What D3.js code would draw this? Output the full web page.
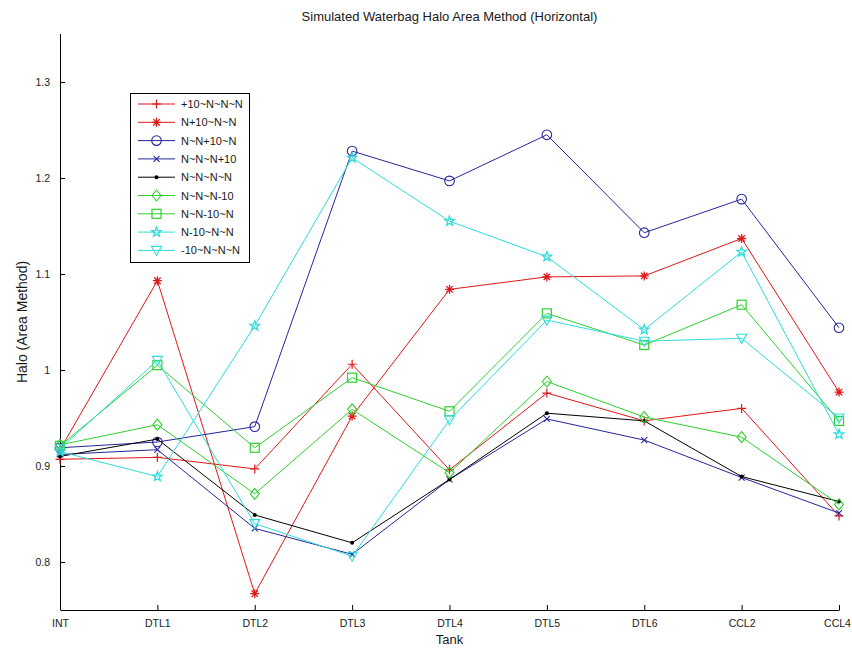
<!DOCTYPE html>
<html>
<head>
<meta charset="utf-8">
<script src="https://cdn.jsdelivr.net/npm/d3@7"></script>
<style>
  html, body { margin: 0; padding: 0; background: #ffffff; }
  svg text { font-family: "Liberation Sans", Arial, Helvetica, sans-serif; fill: #1a1a1a; }
</style>
</head>
<body>
<svg id="chart" width="852" height="648"></svg>
<script>
// Tank stations along the beamline
const tanks = ["INT", "DTL1", "DTL2", "DTL3", "DTL4", "DTL5", "DTL6", "CCL2", "CCL4"];

// Halo (area method) per waterbag error case
const plusTenNNN   = [0.907, 0.909, 0.897, 1.006, 0.896, 0.976, 0.947, 0.960, 0.848];
const nPlusTenNN   = [0.917, 1.093, 0.767, 0.952, 1.084, 1.097, 1.098, 1.137, 0.977];
const nnPlusTenN   = [0.919, 0.925, 0.941, 1.228, 1.197, 1.245, 1.143, 1.178, 1.044];
const nnnPlusTen   = [0.912, 0.917, 0.835, 0.808, 0.886, 0.949, 0.927, 0.888, 0.851];
const nnnn         = [0.910, 0.928, 0.849, 0.820, 0.886, 0.955, 0.947, 0.889, 0.863];
const nnnMinusTen  = [0.922, 0.943, 0.871, 0.959, 0.893, 0.988, 0.951, 0.930, 0.860];
const nnMinusTenN  = [0.921, 1.005, 0.919, 0.992, 0.957, 1.059, 1.026, 1.068, 0.947];
const nMinusTenNN  = [0.915, 0.889, 1.046, 1.221, 1.155, 1.118, 1.042, 1.123, 0.933];
const minusTenNNN  = [0.918, 1.010, 0.840, 0.806, 0.948, 1.052, 1.030, 1.033, 0.950];

const seriesNames = ["+10~N~N~N", "N+10~N~N", "N~N+10~N", "N~N~N+10", "N~N~N~N",
                     "N~N~N-10", "N~N-10~N", "N-10~N~N", "-10~N~N~N"];
const seriesValues = [plusTenNNN, nPlusTenNN, nnPlusTenN, nnnPlusTen, nnnn,
                      nnnMinusTen, nnMinusTenN, nMinusTenNN, minusTenNNN];
const seriesColors = ["#dd1818", "#dd1818", "#25259c", "#25259c", "#000000",
                      "#2ed12e", "#2ed12e", "#2fdcdc", "#2fdcdc"];
const seriesMarkers = ["plus", "star", "circle", "x", "dot", "diamond", "square", "pentagram", "triangleDown"];

const yTicks = [0.8, 0.9, 1.0, 1.1, 1.2, 1.3];
const yTickLabels = ["0.8", "0.9", "1", "1.1", "1.2", "1.3"];

const svg = d3.select("#chart");
const plotLeft = 60, plotRight = 839, plotTop = 34, plotBottom = 610;

const x = d3.scalePoint().domain(tanks).range([plotLeft, plotRight]);
const y = d3.scaleLinear().domain([0.75, 1.35]).range([plotBottom, plotTop]);

// Axes (left and bottom only, ticks pointing inward)
const xAxis = svg.append("g").attr("transform", `translate(0,${plotBottom})`)
  .call(d3.axisBottom(x).tickSizeInner(-5).tickSizeOuter(0).tickPadding(10));
const yAxis = svg.append("g").attr("transform", `translate(${plotLeft},0)`)
  .call(d3.axisLeft(y).tickValues(yTicks).tickFormat((d, i) => yTickLabels[i])
        .tickSizeInner(-5).tickSizeOuter(0).tickPadding(10));
[xAxis, yAxis].forEach(g => {
  g.select(".domain").attr("stroke", "#000").attr("stroke-width", 1);
  g.selectAll(".tick line").attr("stroke", "#000");
  g.selectAll(".tick text").attr("font-size", 10.5).style("font-family", "'Liberation Sans', Arial, sans-serif").attr("fill", "#222");
});
yAxis.select(".domain").attr("d", `M0.5,${plotTop}V${plotBottom}`);
// keep the last category label inside the canvas
xAxis.selectAll(".tick text").filter(d => d === "CCL4").attr("dx", -2);

// Titles
svg.append("text").attr("x", (plotLeft + plotRight) / 2).attr("y", 21).attr("text-anchor", "middle")
  .attr("font-size", 13).text("Simulated Waterbag Halo Area Method (Horizontal)");
svg.append("text").attr("x", (plotLeft + plotRight) / 2).attr("y", 644).attr("text-anchor", "middle")
  .attr("font-size", 13).text("Tank");
svg.append("text").attr("transform", `translate(27,${(plotTop + plotBottom) / 2}) rotate(-90)`)
  .attr("text-anchor", "middle").attr("font-size", 14).text("Halo (Area Method)");

// Marker shapes
function drawMarker(g, type, cx, cy, color) {
  const s = 4.5;
  if (type === "plus") {
    g.append("path").attr("d", `M${cx - s},${cy}H${cx + s}M${cx},${cy - s}V${cy + s}`)
      .attr("stroke", color).attr("stroke-width", 1.2).attr("fill", "none");
  } else if (type === "x") {
    const t = 3;
    g.append("path").attr("d", `M${cx - t},${cy - t}L${cx + t},${cy + t}M${cx - t},${cy + t}L${cx + t},${cy - t}`)
      .attr("stroke", color).attr("stroke-width", 1.1).attr("fill", "none");
  } else if (type === "star") {
    const t = 3.2;
    g.append("path").attr("d", `M${cx - s},${cy}H${cx + s}M${cx},${cy - s}V${cy + s}M${cx - t},${cy - t}L${cx + t},${cy + t}M${cx - t},${cy + t}L${cx + t},${cy - t}`)
      .attr("stroke", color).attr("stroke-width", 1.3).attr("fill", "none");
  } else if (type === "circle") {
    g.append("circle").attr("cx", cx).attr("cy", cy).attr("r", 4.8)
      .attr("stroke", color).attr("stroke-width", 1.1).attr("fill", "none");
  } else if (type === "dot") {
    g.append("circle").attr("cx", cx).attr("cy", cy).attr("r", 2)
      .attr("fill", color);
  } else if (type === "diamond") {
    g.append("path").attr("d", `M${cx},${cy - 5.5}L${cx + 4.5},${cy}L${cx},${cy + 5.5}L${cx - 4.5},${cy}Z`)
      .attr("stroke", color).attr("stroke-width", 1.1).attr("fill", "none");
  } else if (type === "square") {
    g.append("rect").attr("x", cx - 4.5).attr("y", cy - 4.5).attr("width", 9).attr("height", 9)
      .attr("stroke", color).attr("stroke-width", 1.2).attr("fill", "none");
  } else if (type === "pentagram") {
    const pts = d3.range(10).map(i => {
      const r = i % 2 === 0 ? 5 : 2.1;
      const a = -Math.PI / 2 + i * Math.PI / 5;
      return [cx + r * Math.cos(a), cy + r * Math.sin(a)];
    });
    g.append("path").attr("d", "M" + pts.map(p => p.join(",")).join("L") + "Z")
      .attr("stroke", color).attr("stroke-width", 1.3).attr("fill", "none");
  } else if (type === "triangleDown") {
    g.append("path").attr("d", `M${cx - 5},${cy - 4}L${cx + 5},${cy - 4}L${cx},${cy + 5}Z`)
      .attr("stroke", color).attr("stroke-width", 1.1).attr("fill", "none");
  }
}

// Series lines and markers
const line = d3.line().x((d, i) => x(tanks[i])).y(d => y(d));
seriesValues.forEach((vals, k) => {
  const g = svg.append("g");
  g.append("path").datum(vals).attr("d", line)
    .attr("fill", "none").attr("stroke", seriesColors[k]).attr("stroke-width", 1);
  vals.forEach((v, i) => drawMarker(g, seriesMarkers[k], x(tanks[i]), y(v), seriesColors[k]));
});

// Legend
const lg = svg.append("g");
const lx = 130, ly = 93, rowH = 18.3;
lg.append("rect").attr("x", lx + 0.5).attr("y", ly + 0.5).attr("width", 119).attr("height", 169)
  .attr("fill", "#fff").attr("stroke", "#000").attr("stroke-width", 1);
seriesNames.forEach((name, k) => {
  const cy = ly + 11 + k * rowH;
  lg.append("line").attr("x1", lx + 8).attr("x2", lx + 45).attr("y1", cy).attr("y2", cy)
    .attr("stroke", seriesColors[k]).attr("stroke-width", 1);
  drawMarker(lg, seriesMarkers[k], lx + 26.5, cy, seriesColors[k]);
  lg.append("text").attr("x", lx + 51).attr("y", cy + 4).attr("font-size", 11).text(name);
});
</script>
</body>
</html>
